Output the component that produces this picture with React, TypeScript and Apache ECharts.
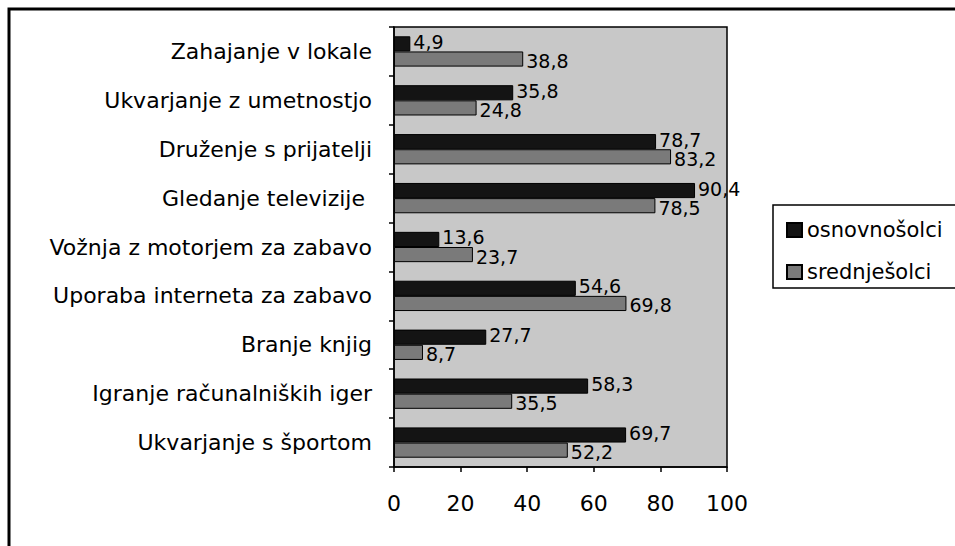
import React, { useEffect, useRef } from "react";
import * as echarts from "echarts";

const categories = [
  "Zahajanje v lokale",
  "Ukvarjanje z umetnostjo",
  "Druženje s prijatelji",
  "Gledanje televizije ",
  "Vožnja z motorjem za zabavo",
  "Uporaba interneta za zabavo",
  "Branje knjig",
  "Igranje računalniških iger",
  "Ukvarjanje s športom",
];
const osnovnosolci = [4.9, 35.8, 78.7, 90.4, 13.6, 54.6, 27.7, 58.3, 69.7];
const srednjesolci = [38.8, 24.8, 83.2, 78.5, 23.7, 69.8, 8.7, 35.5, 52.2];
const seriesNames = ["osnovnošolci", "srednješolci"];
const xTicks = [0, 20, 40, 60, 80, 100];

const FONT = "DejaVu Sans";

export default function App() {
  const ref = useRef<HTMLDivElement>(null);
  useEffect(() => {
    if (!ref.current) return;
    const chart = echarts.init(ref.current, null, { renderer: "svg" });
    const labelFmt = (p: any) => String(p.value).replace(".", ",");
    chart.setOption({
      animation: false,
      backgroundColor: "#ffffff",
      textStyle: { fontFamily: FONT, color: "#000" },
      grid: {
        left: 394,
        top: 27,
        width: 333,
        height: 440,
        show: true,
        backgroundColor: "#c8c8c8",
        borderColor: "#000",
        borderWidth: 1.5,
      },
      xAxis: {
        type: "value",
        min: xTicks[0],
        max: xTicks[xTicks.length - 1],
        interval: 20,
        axisLine: { show: true, lineStyle: { color: "#000", width: 1.5 } },
        axisTick: { show: true, length: 5, lineStyle: { color: "#000", width: 1.5 } },
        splitLine: { show: false },
        axisLabel: { fontFamily: FONT, fontSize: 22, color: "#000", margin: 25 },
      },
      yAxis: {
        type: "category",
        data: categories,
        inverse: true,
        axisLine: { show: true, lineStyle: { color: "#000", width: 1.5 } },
        axisTick: { show: true, length: 5, lineStyle: { color: "#000", width: 1.5 } },
        axisLabel: { fontFamily: FONT, fontSize: 22, color: "#000", margin: 22 },
      },
      legend: {
        orient: "vertical",
        left: 781,
        top: 214,
        itemWidth: 15,
        itemHeight: 14,
        itemGap: 20,
        icon: "rect",
        textStyle: { fontFamily: FONT, fontSize: 21, color: "#000", lineHeight: 22 },
        data: seriesNames,
      },
      graphic: [
        {
          type: "rect",
          shape: { x: 9, y: 9, width: 1000, height: 600 },
          style: { fill: "none", stroke: "#000", lineWidth: 3 },
          silent: true,
          z: 100,
        },
        {
          type: "rect",
          shape: { x: 773, y: 205, width: 300, height: 83 },
          style: { fill: "none", stroke: "#000", lineWidth: 1.5 },
          silent: true,
        },
      ],
      series: [
        {
          name: seriesNames[0],
          type: "bar",
          data: osnovnosolci,
          barCategoryGap: "38%",
          barGap: "0%",
          itemStyle: { color: "#141414", borderColor: "#000", borderWidth: 1 },
          label: {
            show: true,
            position: "right",
            distance: 3,
            offset: [0, -2],
            fontFamily: FONT,
            fontSize: 19,
            color: "#000",
            formatter: labelFmt,
          },
        },
        {
          name: seriesNames[1],
          type: "bar",
          data: srednjesolci,
          barCategoryGap: "38%",
          barGap: "0%",
          itemStyle: { color: "#7a7a7a", borderColor: "#000", borderWidth: 1 },
          label: {
            show: true,
            position: "right",
            distance: 3,
            offset: [0, 2],
            fontFamily: FONT,
            fontSize: 19,
            color: "#000",
            formatter: labelFmt,
          },
        },
      ],
    });
    return () => chart.dispose();
  }, []);
  return (
    <div
      ref={ref}
      style={{ position: "absolute", left: 0, top: 0, width: 955, height: 546 }}
    />
  );
}
